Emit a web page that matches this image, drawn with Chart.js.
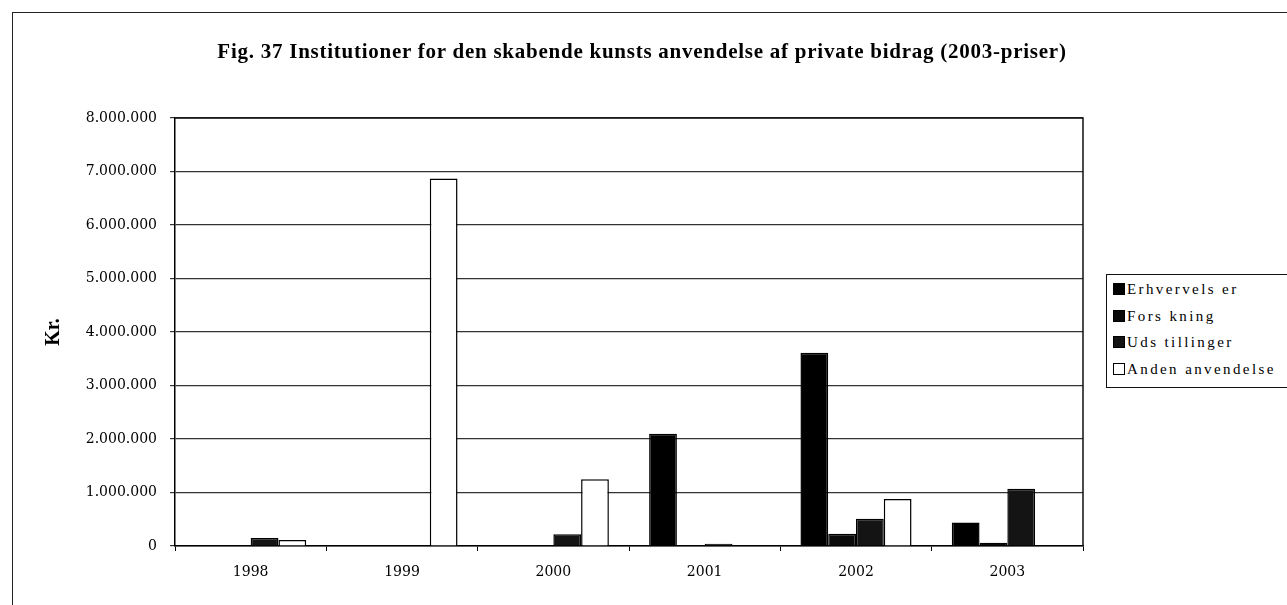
<!DOCTYPE html>
<html>
<head>
<meta charset="utf-8">
<script src="https://cdn.jsdelivr.net/npm/chart.js@4/dist/chart.umd.min.js"></script>
<style>
  html, body { margin: 0; padding: 0; background: #fff; overflow: hidden; }
  #wrap { position: relative; width: 1287px; height: 605px; }
  #frame {
    position: absolute; left: 12px; top: 12px; width: 1300px; height: 700px;
    border-top: 1px solid #222; border-left: 1px solid #222;
  }
  #myChart { position: absolute; left: 0; top: 0; }
  #title {
    position: absolute; left: 0; top: 39px; width: 1284px; text-align: center;
    font-family: "Liberation Serif", serif; font-weight: bold; font-size: 21px;
    line-height: 24px; letter-spacing: 0.75px; color: #000; white-space: nowrap;
  }
  #legend {
    position: absolute; left: 1106px; top: 274px; width: 200px; height: 112px;
    border: 1px solid #111; background: #fff;
    font-family: "Liberation Serif", serif; font-size: 15px; color: #000;
    letter-spacing: 2.4px;
  }
  #legend .item { position: absolute; left: 6px; height: 16px; line-height: 16px; white-space: nowrap; }
  #legend .box { display: inline-block; width: 10px; height: 10px; border: 1px solid #000; margin-right: 2px; vertical-align: -1px; }
</style>
</head>
<body>
<div id="wrap">
  <div id="frame"></div>
  <canvas id="myChart" width="1287" height="605"></canvas>
  <div id="title">Fig. 37 Institutioner for den skabende kunsts anvendelse af private bidrag (2003-priser)</div>
  <div id="legend"></div>
</div>
<script>
const years = ['1998', '1999', '2000', '2001', '2002', '2003']
const erhvervelser = [null, null, null, 2100000, 3610000, 440000]
const forskning = [null, null, null, null, 230000, 60000]
const udstillinger = [150000, null, 220000, 40000, 510000, 1070000]
const andenAnvendelse = [110000, 6870000, 1250000, null, 880000, null]
const yTickLabels = ['0', '1.000.000', '2.000.000', '3.000.000', '4.000.000', '5.000.000', '6.000.000', '7.000.000', '8.000.000']

const series = [
    { label: 'Erhvervels er', data: erhvervelser, fill: '#000000' },
    { label: 'Fors kning', data: forskning, fill: '#0a0a0a' },
    { label: 'Uds tillinger', data: udstillinger, fill: '#141414' },
    { label: 'Anden anvendelse', data: andenAnvendelse, fill: '#ffffff' }
]

// top and right edges of the plot box
const plotFrame = {
    id: 'plotFrame',
    beforeDatasetsDraw(chart) {
        const { ctx, chartArea: a } = chart
        ctx.save()
        ctx.strokeStyle = '#111'
        ctx.lineWidth = 1.5
        ctx.beginPath()
        ctx.moveTo(a.left, a.top)
        ctx.lineTo(a.right, a.top)
        ctx.lineTo(a.right, a.bottom)
        ctx.stroke()
        ctx.restore()
    }
}

const data = {
    labels: years,
    datasets: series.map(s => ({
        label: s.label,
        data: s.data,
        backgroundColor: s.fill,
        borderColor: '#000',
        borderWidth: 1.5,
        borderSkipped: 'bottom',
        categoryPercentage: 0.734,
        barPercentage: 1.0
    }))
}

const config = {
    type: 'bar',
    data: data,
    plugins: [plotFrame],
    options: {
        responsive: false,
        animation: false,
        layout: { padding: { left: 0, right: 204, top: 118, bottom: 0 } },
        plugins: {
            legend: { display: false },
            tooltip: { enabled: false },
            title: { display: false }
        },
        scales: {
            x: {
                afterFit: s => { s.height = 59 },
                grid: { display: true, drawOnChartArea: false, drawTicks: true, tickLength: 5, color: '#000', offset: true },
                border: { display: true, color: '#000', width: 1.5 },
                ticks: { color: '#000', padding: 13, font: { family: 'DejaVu Serif', size: 14 } }
            },
            y: {
                min: 0,
                max: 8000000,
                afterFit: s => { s.width = 175 },
                ticks: {
                    stepSize: 1000000,
                    color: '#000',
                    padding: 13,
                    font: { family: 'DejaVu Serif', size: 14 },
                    callback: (v, i) => yTickLabels[i]
                },
                grid: { color: '#333', lineWidth: 1.2, tickLength: 5 },
                border: { display: true, color: '#000', width: 1.5 },
                title: {
                    display: true,
                    text: 'Kr.',
                    color: '#000',
                    font: { family: 'Liberation Serif', size: 20, weight: 'bold' },
                    padding: { top: 42, bottom: 0 }
                }
            }
        }
    }
}

const ctx = document.getElementById('myChart').getContext('2d')
new Chart(ctx, config)

// legend entries, one per series
const legend = document.getElementById('legend')
series.forEach((s, i) => {
    const item = document.createElement('div')
    item.className = 'item'
    item.style.top = (6 + i * 26.7) + 'px'
    const box = document.createElement('span')
    box.className = 'box'
    box.style.background = s.fill
    item.appendChild(box)
    item.appendChild(document.createTextNode(s.label))
    legend.appendChild(item)
})
</script>
</body>
</html>
